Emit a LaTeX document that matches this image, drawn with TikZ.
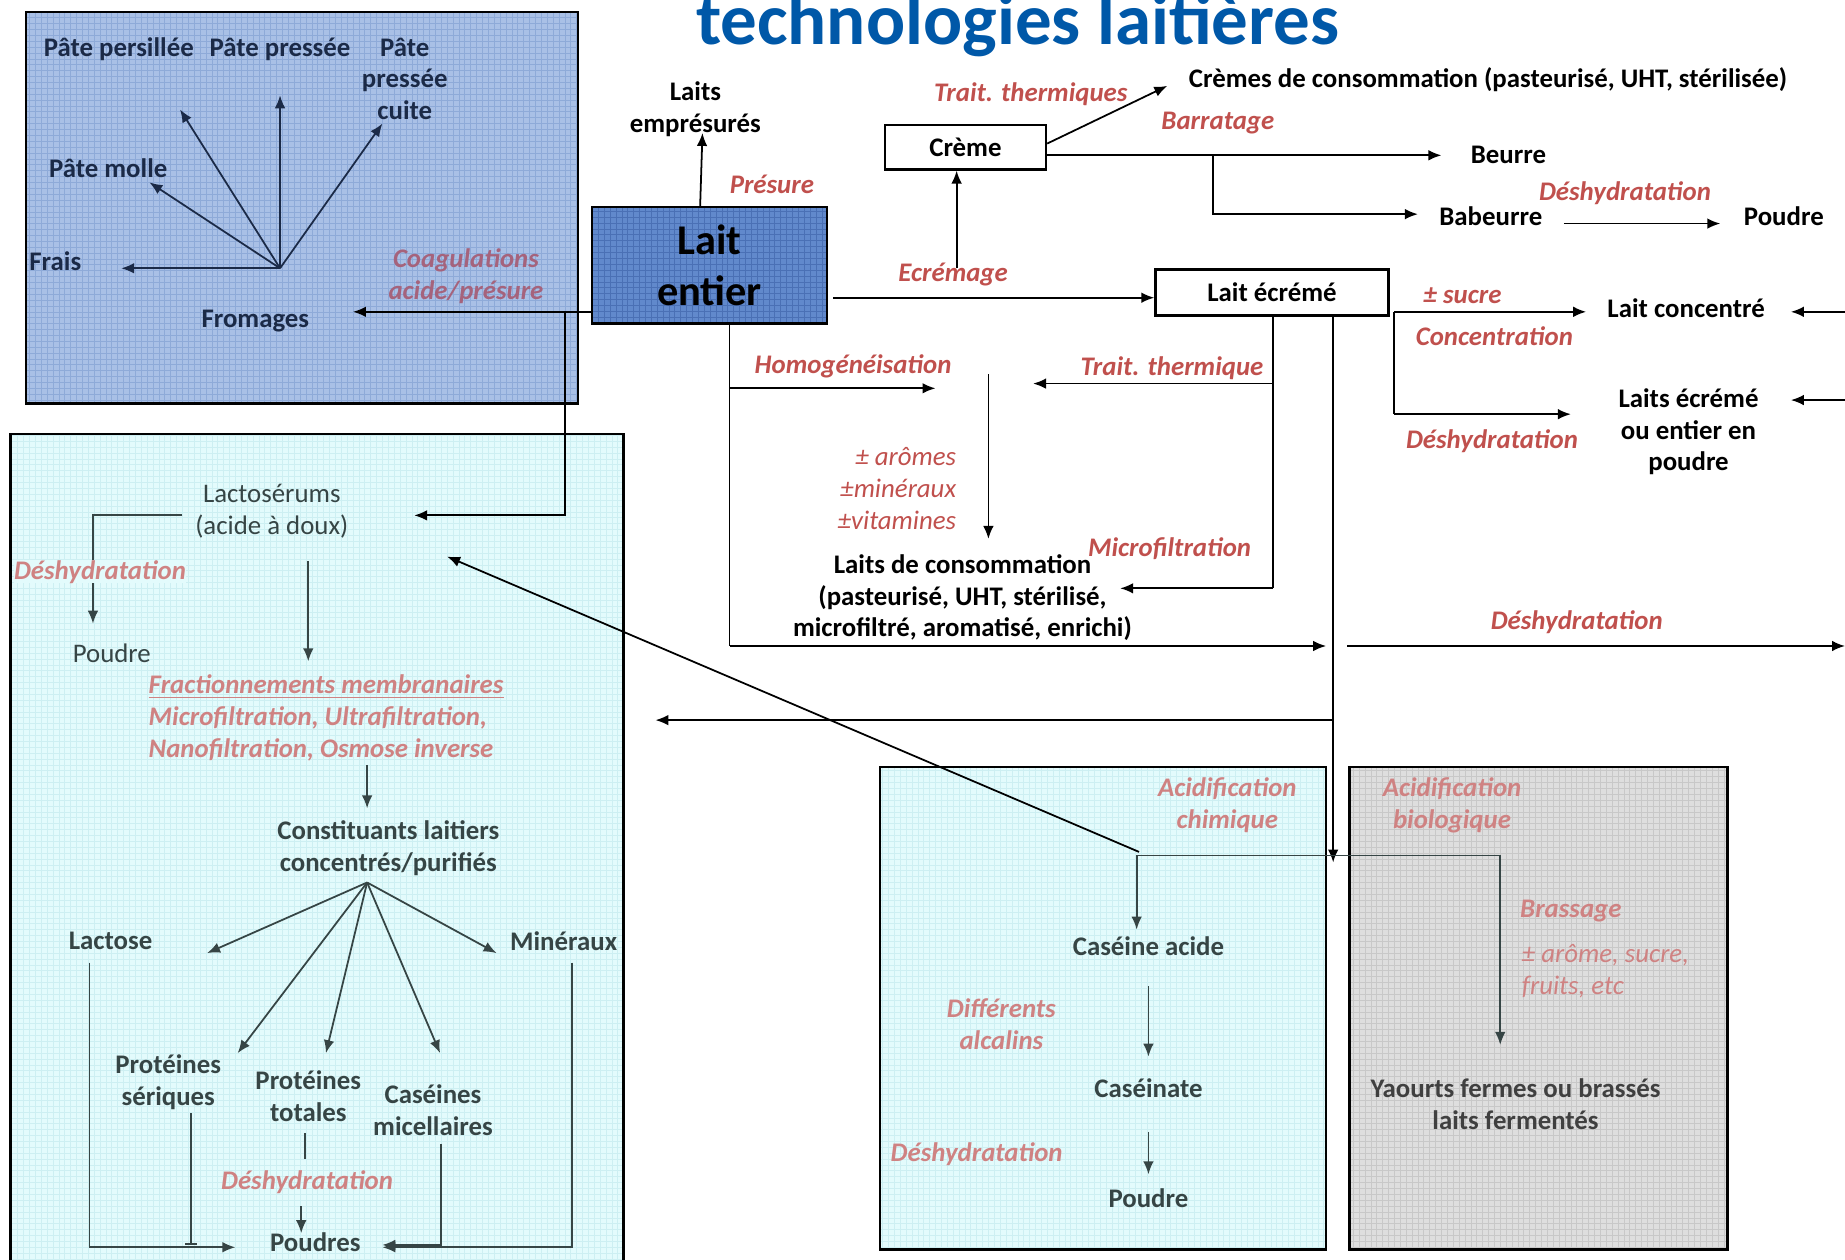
\documentclass[tikz,border=0pt]{standalone}
\usepackage{fontspec}
\setmainfont{Carlito}
\usetikzlibrary{arrows.meta,positioning}
\definecolor{labred}{HTML}{C0504D}
\definecolor{fadred}{HTML}{CF8282}
\definecolor{mauve}{HTML}{A5637C}
\definecolor{titleblue}{HTML}{0058A8}
\definecolor{navy}{HTML}{1B2A47}
\definecolor{slate}{HTML}{364545}
\definecolor{yotext}{HTML}{404040}
\definecolor{cheeseblue}{HTML}{A9C0E6}
\definecolor{cheesegrid}{HTML}{8EAAD8}
\definecolor{laitblue}{HTML}{6189CC}
\definecolor{laitgrid}{HTML}{4A70B5}
\definecolor{wheycyan}{HTML}{E3FBFC}
\definecolor{wheygrid}{HTML}{CDEFF2}
\definecolor{yogray}{HTML}{DEDEDE}
\definecolor{yogrid}{HTML}{C8C8C8}
\newcommand{\nsz}{\fontsize{11.4}{13.5}\selectfont}
\tikzset{
  txt/.style={font=\nsz\bfseries, align=center, inner sep=1pt},
  reg/.style={font=\nsz, align=center, inner sep=1pt},
  lbl/.style={font=\nsz\bfseries\itshape, text=labred, align=center, inner sep=1pt},
  add/.style={font=\nsz\itshape, text=labred, inner sep=1pt},
  arr/.style={-{Latex[length=5.5pt,width=4.5pt]}, line width=0.75pt},
  ln/.style={line width=0.75pt},
  framebox/.style={draw, line width=1pt},
  texture/.style={path picture={\draw[#1, line width=0.25pt, step=2.5pt]
      (path picture bounding box.south west) grid (path picture bounding box.north east);}},
}
\begin{document}
\begin{tikzpicture}[x=0.5pt, y=-0.5pt]
\useasboundingbox (0,0) rectangle (1568,1070);

% background boxes
\path[framebox, fill=cheeseblue, texture=cheesegrid] (22,10) rectangle (491,343);
\path[framebox, fill=wheycyan, texture=wheygrid] (9,369) rectangle (530,1090);
\path[framebox, fill=wheycyan, texture=wheygrid] (748,652) rectangle (1127,1062);
\path[framebox, fill=yogray, texture=yogrid] (1147,652) rectangle (1468,1062);

\node[font=\fontsize{31}{36}\selectfont\bfseries, text=titleblue, anchor=base] (title) at (865,38) {technologies laitières};

% main boxes
\node[framebox, fill=laitblue, texture=laitgrid, minimum width=100pt, minimum height=49.5pt,
  font=\fontsize{18}{21.5}\selectfont\bfseries, align=center, inner sep=0pt] (lait) at (603,225.5) {Lait\\entier};
\node[framebox, txt, fill=white, minimum width=68.5pt, minimum height=19pt] (creme) at (820.5,125) {Crème};
\node[framebox, txt, minimum width=99pt, minimum height=19.5pt] (lecreme) at (1081,248.5) {Lait écrémé};

% products, top
\node[txt] (empres) at (591,93) {Laits\\emprésurés};
\node[lbl] (presure) at (656,157) {Présure};
\node[txt, anchor=west] (cremes) at (1008,68) {Crèmes de consommation (pasteurisé, UHT, stérilisée)};
\node[lbl] (traitA) at (876,80) {Trait. thermiques};
\node[lbl] (barr) at (1035,105) {Barratage};
\node[txt] (beurre) at (1282,132) {Beurre};
\node[txt] (babeurre) at (1267,184) {Babeurre};
\node[lbl] (deshA) at (1381,164) {Déshydratation};
\node[txt] (poudreA) at (1516,184) {Poudre};
\node[lbl] (ecrem) at (810,233) {Ecrémage};
\node[lbl] (sucre) at (1243,251) {± sucre};
\node[lbl] (concent) at (1270,286) {Concentration};
\node[txt] (lconc) at (1433,262) {Lait concentré};
\node[lbl] (deshB) at (1268,375) {Déshydratation};
\node[txt] (lpoudre) at (1435,367) {Laits écrémé\\ou entier en\\poudre};
\node[lbl] (homog) at (725,311) {Homogénéisation};
\node[lbl] (traitB) at (996,313) {Trait. thermique};
\node[add, align=right, anchor=east] (addit) at (815,415) {± arômes\\±minéraux\\±vitamines};
\node[lbl] (microf) at (994,466) {Microfiltration};
\node[txt] (lconso) at (818,508) {Laits de consommation\\(pasteurisé, UHT, stérilisé,\\microfiltré, aromatisé, enrichi)};
\node[lbl] (deshC) at (1340,529) {Déshydratation};

% cheese
\node[txt, text=navy] (persil) at (101,42) {Pâte persillée};
\node[txt, text=navy] (presse) at (238,42) {Pâte pressée};
\node[txt, text=navy] (cuite) at (344,67) {Pâte\\pressée\\cuite};
\node[txt, text=navy] (molle) at (92,143) {Pâte molle};
\node[txt, text=navy] (frais) at (47,222) {Frais};
\node[txt, text=navy] (fromages) at (217,273) {Fromages};
\node[lbl, text=mauve] (coag) at (396,234.5) {Coagulations\\acide/présure};
\coordinate (fhub) at (238,228);
\foreach \n/\x/\y in {persil/153/93, presse/238/81, cuite/325/105, molle/127/155, frais/103/228}
  \coordinate (t-\n) at (\x,\y);
\foreach \n in {persil,presse,cuite,molle,frais}
  \draw[arr, navy] (fhub) -- (t-\n);

% whey
\node[reg, text=slate] (lactos) at (231,434.5) {Lactosérums\\(acide à doux)};
\node[reg, text=slate] (poudreW) at (95,555) {Poudre};
\node[lbl, text=fadred, align=left, anchor=west] (fract) at (124,610)
  {\underline{Fractionnements membranaires}\\Microfiltration, Ultrafiltration,\\Nanofiltration, Osmose inverse};
\node[txt, text=slate] (constit) at (330,720.5) {Constituants laitiers\\concentrés/purifiés};
\node[txt, text=slate] (lactose) at (94,800) {Lactose};
\node[txt, text=slate] (mineraux) at (479,800) {Minéraux};
\node[txt, text=slate] (protser) at (143,919.5) {Protéines\\sériques};
\node[txt, text=slate] (prottot) at (262,931.5) {Protéines\\totales};
\node[txt, text=slate] (casmic) at (368,943.5) {Caséines\\micellaires};
\node[lbl, text=fadred] (deshP) at (261,1005) {Déshydratation};
\node[txt, text=slate] (poudres) at (268,1056) {Poudres};

% casein
\node[lbl, text=fadred] (acidch) at (1043,684.5) {Acidification\\chimique};
\node[txt, text=slate] (casacide) at (976,804) {Caséine acide};
\node[lbl, text=fadred] (alcal) at (851,870.5) {Différents\\alcalins};
\node[txt, text=slate] (caseinate) at (976,925) {Caséinate};
\node[lbl, text=fadred] (deshK) at (830,981) {Déshydratation};
\node[txt, text=slate] (poudreK) at (976,1018) {Poudre};

% yogurt
\node[lbl, text=fadred] (acidbio) at (1234,684.5) {Acidification\\biologique};
\node[lbl, text=fadred] (brass) at (1335,774) {Brassage};
\node[add, text=fadred, align=left, anchor=west] (plusar) at (1291,825.5) {± arôme, sucre,\\fruits, etc};
\node[txt, text=yotext] (yaourts) at (1288,938.5) {Yaourts fermes ou brassés\\laits fermentés};

% connectors, top part
\coordinate (c-pres) at (595,176); \coordinate (t-pres) at (597,113);
\draw[arr] (c-pres) -- (t-pres);
\coordinate (c-ecr) at (708,253);
\draw[arr] (c-ecr) -- (c-ecr -| lecreme.west);
\coordinate (c-crm) at (813,228);
\draw[arr] (c-crm) -- (c-crm |- creme.south);
\coordinate (t-cremes) at (992,73);
\draw[arr] ([yshift=1.5pt]creme.east) -- (t-cremes);
\coordinate (c-bab) at (1031,132); \coordinate (t-beurre) at (1225,132); \coordinate (t-bab) at (1205,182);
\draw[arr] ([yshift=-3.5pt]creme.east) -- (t-beurre);
\draw[arr] (c-bab) |- (t-bab);
\coordinate (c-pdA) at (1329,190); \coordinate (t-pdA) at (1462,190);
\draw[arr] (c-pdA) -- (t-pdA);

% skimmed milk branches
\coordinate (c-conc) at (1185,265); \coordinate (t-conc) at (1348,265);
\coordinate (c-pdr) at (1185,352); \coordinate (t-pdr) at (1335,352);
\draw[ln] (c-conc) -- (c-pdr);
\draw[arr] (c-conc) -- (t-conc);
\draw[arr] (c-pdr) -- (t-pdr);
\coordinate (e-conc) at (1568,265); \coordinate (e-pdr) at (1568,340);
\draw[arr] (e-conc) -- (1522,265);
\draw[arr] (e-pdr) -- (1522,340);
\coordinate (c-v1) at (1082,268); \coordinate (c-v1b) at (1082,500);
\draw[ln] (c-v1) -- (c-v1b);
\draw[arr] (1082,326) -- (878,326);
\draw[arr] (c-v1b) -- (952,500);
\coordinate (c-v2) at (1133,268); \coordinate (c-acid) at (1133,733);
\draw[arr] (c-v2) -- (c-acid);
\draw[arr] (1133,612) -- (557,612);
\coordinate (c-dsh) at (1145,549); \coordinate (e-dsh) at (1568,549);
\draw[arr] (c-dsh) -- (e-dsh);

% whole milk down
\coordinate (c-ent) at (620,275); \coordinate (c-entb) at (620,549);
\draw[ln] (c-ent) -- (c-entb);
\draw[arr] (620,330) -- (795,330);
\draw[arr] (c-entb) -- (1127,549);
\draw[arr] (840,318) -- (840,458);

% to cheese and whey
\coordinate (c-from) at (503,265); \coordinate (c-lac) at (480,265);
\draw[arr] (c-from) -- (300,265);
\draw[arr] (c-lac) |- (352,438);
\coordinate (c-khub) at (968,724);
\draw[arr] (c-khub) -- (380,473);

% casein / yogurt
\coordinate (c-kh) at (966,727); \coordinate (c-yh) at (1275,727);
\draw[ln, slate] (c-kh) -- (c-yh);
\draw[arr, slate] (c-yh) -- (1275,888);
\draw[arr, slate] (c-kh) -- (966,790);
\draw[arr, slate] (976,838) -- (976,898);
\draw[arr, slate] (976,962) -- (976,998);

% whey arrows
\draw[arr, slate] (155,438) -| (79,530);
\node[lbl, text=fadred, fill=wheycyan, inner sep=0pt] (deshW) at (85,486) {Déshydratation};
\draw[arr, slate] (262,477) -- (262,562);
\draw[arr, slate] (312,650) -- (312,687);
\coordinate (whub) at (312,750);
\foreach \x/\y in {176/810, 202/895, 277/895, 374/895, 422/810}
  \draw[arr, slate] (whub) -- (\x,\y);
\draw[arr, slate] (76,818) |- (200,1060);
\draw[ln, slate, -{Bar[width=5pt]}] (162,946) -- (162,1058);
\draw[ln, slate] (259,963) -- (259,985);
\draw[arr, slate] (256,1025) -- (256,1048);
\draw[arr, slate] (375,972) |- (325,1058);
\draw[arr, slate] (486,818) |- (325,1060);
\end{tikzpicture}
\end{document}
